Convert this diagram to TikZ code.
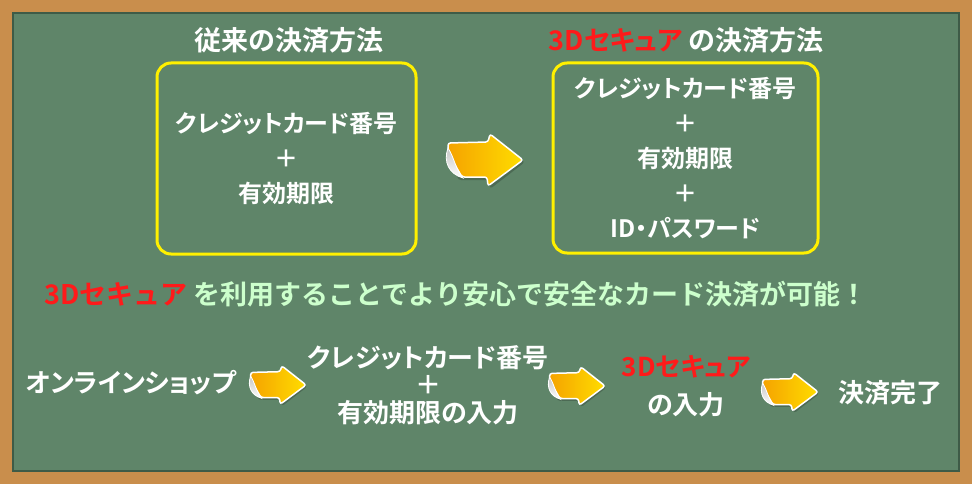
\documentclass[tikz,border=0pt]{standalone}
\usepackage{fontspec}
\setmainfont{Noto Sans CJK JP}[BoldFont={Noto Sans CJK JP Bold}, RawFeature=+palt]
\newfontfamily\fullwidth{Noto Sans CJK JP}[BoldFont={Noto Sans CJK JP Bold}]
\usetikzlibrary{positioning}
\definecolor{cboard}{HTML}{5F8569}
\definecolor{cboardedge}{HTML}{3E5B47}
\definecolor{cwood}{HTML}{C98E4C}
\definecolor{cyellow}{HTML}{FFF000}
\definecolor{cred}{HTML}{FF1A1A}
\definecolor{cmint}{HTML}{CCFFCC}
\definecolor{carrowa}{HTML}{F5A300}
\definecolor{carrowb}{HTML}{FFDD00}
\tikzset{
  every picture/.style={x=1pt, y=-1pt},
  board/.style={draw=cboardedge, fill=cboard, line width=2pt, minimum width=946pt, minimum height=458pt, inner sep=0pt},
  card/.style={draw=cyellow, line width=3pt, rounded corners=14pt, align=center, text=white, inner sep=0pt,
    font=\bfseries\fontsize{24}{35}\selectfont},
  heading/.style={text=white, inner sep=0pt, font=\bfseries\fontsize{27}{30}\selectfont},
  slogan/.style={text=cmint, inner sep=0pt, font=\fullwidth\bfseries\fontsize{27}{30}\selectfont},
  flow/.style={text=white, align=center, inner sep=0pt, font=\bfseries\fontsize{26}{27.5}\selectfont},
  curlarrow/.pic={
    % drop shadow
    \fill[black, opacity=0.2, rounded corners=3pt] (-35,-15) -- (5,-15) -- (7,-23) -- (40,2) -- (5,29) -- (4,20) -- (-27,20) -- cycle;
    % body
    \path[left color=carrowa, right color=carrowb, draw=white, line width=1.5pt, rounded corners=2.5pt]
      (-37,-17) -- (3,-18) -- (5,-26) -- (38,0) -- (3,26) -- (2,17) -- (-23,17) -- (-37,-7) -- cycle;
    % curled corner
    \path[top color=gray!45, bottom color=white, draw=white, line width=0.8pt]
      (-37,-12) .. controls (-42,2) and (-36,14) .. (-22,18) .. controls (-30,8) and (-31,-3) .. (-37,-12) -- cycle;
  }
}

\begin{document}
\begin{tikzpicture}
  \useasboundingbox (0,0) rectangle (972,484);
  \fill[cwood] (0,0) rectangle (972,484);
  \node[board] (board) at (486,242) {};
  % before / after
  \node[heading] (oldhead) at (289,40) {従来の決済方法};
  \node[heading] (newhead) at (686,40) {\textcolor{cred}{3Dセキュア} の決済方法};
  \node[card, minimum width=259pt, minimum height=191pt] (oldcard) at (286.5,158.5)
    {クレジットカード番号\\＋\\有効期限};
  \node[card, minimum width=265pt, minimum height=190pt] (newcard) at (685.5,158)
    {クレジットカード番号\\＋\\有効期限\\＋\\ID・パスワード};
  \pic at (485,160) {curlarrow};
  \node[slogan] (slogan) at (456,294) {\textcolor{cred}{3Dセキュア} を利用することでより安心で安全なカード決済が可能！};
  % flow
  \node[flow] (shop) at (131,383) {オンラインショップ};
  \node[flow] (cardin) at (428,385) {クレジットカード番号\\＋\\有効期限の入力};
  \node[flow, font=\bfseries\fontsize{26}{38}\selectfont] (secin) at (686,386) {\textcolor{cred}{3Dセキュア}\\の入力};
  \node[flow] (done) at (890,393) {決済完了};
  \foreach \x/\y in {278/385, 577/386, 790/392}
    \pic[scale=0.74] at (\x,\y) {curlarrow};
\end{tikzpicture}
\end{document}
